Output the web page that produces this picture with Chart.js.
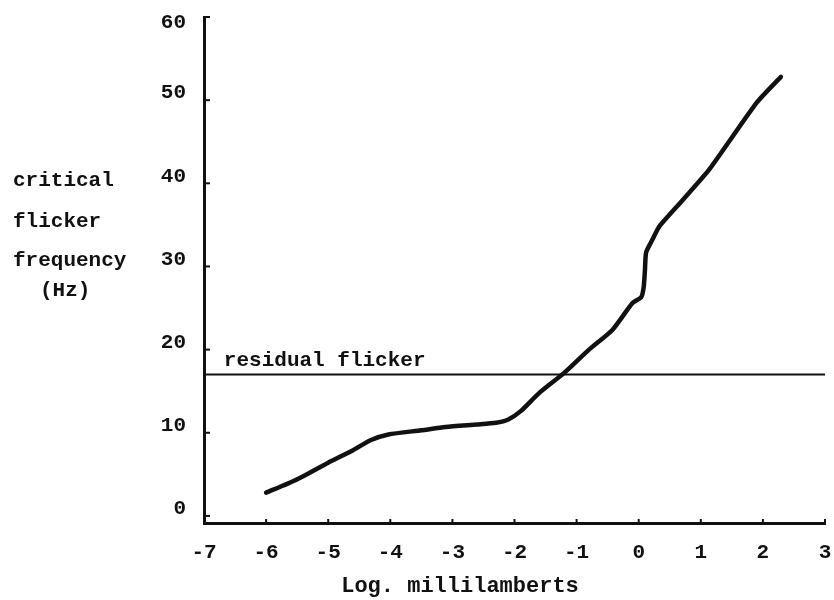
<!DOCTYPE html>
<html>
<head>
<meta charset="utf-8">
<script src="https://cdn.jsdelivr.net/npm/chart.js@4"></script>
<style>
  html, body { margin: 0; padding: 0; background: #ffffff; }
  canvas { display: block; }
</style>
</head>
<body>
<canvas id="c" width="834" height="600"></canvas>
<script>
// ---- data ----
const logLuminance = [-6.0, -5.53, -5.0, -4.6, -4.32, -4.03, -3.5, -3.11, -2.6, -2.30, -2.1, -1.9, -1.6, -1.2, -0.8, -0.42, -0.10, 0.04, 0.08, 0.10, 0.12, 0.22, 0.33, 0.71, 1.14, 1.90, 2.29];
const cffHz        = [2.8, 4.3, 6.4, 7.9, 9.1, 9.8, 10.3, 10.7, 11.0, 11.2, 11.6, 12.6, 14.8, 17.2, 20.0, 22.4, 25.6, 26.3, 27.5, 29.5, 31.7, 33.2, 34.8, 38.0, 41.7, 49.7, 52.8];
const residualFlickerHz = 17;
const residualX = [-7, 3];
const xTickValues = [-7, -6, -5, -4, -3, -2, -1, 0, 1, 2, 3];
const xTickLabels = ['-7', '-6', '-5', '-4', '-3', '-2', '-1', '0', '1', '2', '3'];
const yTickValues = [0, 10, 20, 30, 40, 50, 60];
const yTickLabels = ['0', '10', '20', '30', '40', '50', '60'];
const yLabelLines = ['critical', 'flicker', 'frequency', '(Hz)'];
const xTitle = 'Log. millilamberts';
const residualText = 'residual flicker';

const FONT = "'Liberation Mono', 'DejaVu Sans Mono', monospace";
const INK = '#111111';

const textPlugin = {
  id: 'textPlugin',
  beforeDraw(chart) {
    const ctx = chart.ctx;
    ctx.save();
    ctx.fillStyle = '#ffffff';
    ctx.fillRect(0, 0, chart.width, chart.height);
    ctx.restore();
  },
  afterDraw(chart) {
    const ctx = chart.ctx;
    const xs = chart.scales.x, ys = chart.scales.y;
    ctx.save();
    ctx.fillStyle = INK;
    ctx.strokeStyle = INK;
    // inward tick marks
    ctx.lineWidth = 2;
    const yb = ys.getPixelForValue(ys.min);
    xTickValues.slice(1).forEach(v => {
      const px = xs.getPixelForValue(v);
      ctx.beginPath(); ctx.moveTo(px, yb); ctx.lineTo(px, yb - 4); ctx.stroke();
    });
    const xl = xs.getPixelForValue(xs.min);
    yTickValues.forEach(v => {
      const py = ys.getPixelForValue(v);
      ctx.beginPath(); ctx.moveTo(xl, py); ctx.lineTo(xl + 6, py); ctx.stroke();
    });
    // left label (horizontal lines)
    ctx.font = 'bold 21px ' + FONT;
    ctx.textBaseline = 'middle';
    ctx.textAlign = 'left';
    const lx = [13, 13, 13, 40];
    const ly = [181, 222, 261, 291];
    yLabelLines.forEach((t, i) => ctx.fillText(t, lx[i], ly[i]));
    // residual flicker label
    ctx.fillText(residualText, xs.getPixelForValue(-6.68), ys.getPixelForValue(residualFlickerHz) - 14);
    // x axis title
    ctx.textAlign = 'center';
    ctx.font = 'bold 22px ' + FONT;
    ctx.fillText(xTitle, 460, 586);
    ctx.restore();
  }
};

new Chart(document.getElementById('c'), {
  type: 'scatter',
  data: {
    datasets: [
      {
        label: 'critical flicker frequency',
        data: logLuminance.map((x, i) => ({ x: x, y: cffHz[i] })),
        showLine: true,
        borderColor: INK,
        borderWidth: 4.5,
        borderCapStyle: 'round',
        borderJoinStyle: 'round',
        tension: 0.2,
        pointRadius: 0,
        fill: false
      },
      {
        label: 'residual flicker',
        data: residualX.map(x => ({ x: x, y: residualFlickerHz })),
        showLine: true,
        borderColor: INK,
        borderWidth: 2,
        pointRadius: 0,
        fill: false
      }
    ]
  },
  options: {
    responsive: false,
    animation: false,
    devicePixelRatio: 1,
    layout: { padding: { top: 17, right: 9, left: 0, bottom: 0 } },
    plugins: {
      legend: { display: false },
      tooltip: { enabled: false },
      title: { display: false }
    },
    scales: {
      x: {
        type: 'linear',
        position: 'bottom',
        min: -7,
        max: 3,
        afterFit(s) { s.height = 77; s.paddingLeft = 0; s.paddingRight = 0; },
        afterBuildTicks(s) { s.ticks = xTickValues.map(v => ({ value: v })); },
        grid: { display: false, drawTicks: false },
        border: { display: true, color: INK, width: 3 },
        ticks: {
          color: INK,
          padding: 17,
          font: { family: FONT, size: 21, weight: 'bold' },
          maxRotation: 0,
          autoSkip: false,
          callback(v) { const i = xTickValues.indexOf(v); return i >= 0 ? xTickLabels[i] : ''; }
        }
      },
      y: {
        type: 'linear',
        min: -0.85,
        max: 60,
        afterFit(s) { s.width = 204; s.paddingTop = 0; s.paddingBottom = 0; },
        afterBuildTicks(s) { s.ticks = yTickValues.map(v => ({ value: v })); },
        grid: { display: false, drawTicks: false },
        border: { display: true, color: INK, width: 3 },
        ticks: {
          color: INK,
          padding: 18,
          labelOffset: -7,
          font: { family: FONT, size: 21, weight: 'bold' },
          autoSkip: false,
          callback(v, idx) {
            const i = yTickValues.indexOf(v);
            if (i < 0) return '';
            // the top label sits just below the axis end in the reference
            return i === yTickValues.length - 1 ? ['', yTickLabels[i]] : yTickLabels[i];
          }
        }
      }
    }
  },
  plugins: [textPlugin]
});
</script>
</body>
</html>
